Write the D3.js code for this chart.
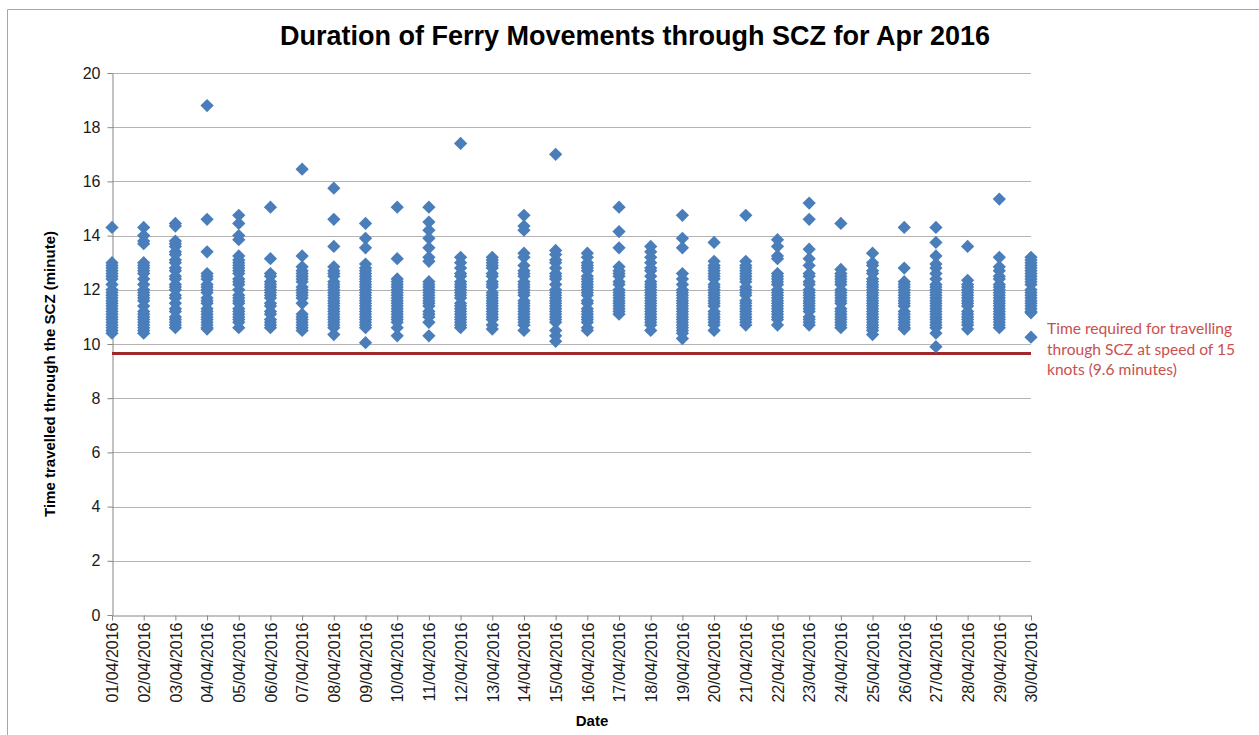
<!DOCTYPE html>
<html>
<head>
<meta charset="utf-8">
<script src="https://cdn.jsdelivr.net/npm/d3@7"></script>
<style>
  html, body { margin: 0; padding: 0; background: #fff; }
  svg { display: block; }
</style>
</head>
<body>
<svg id="chart" width="1259" height="735"></svg>
<script>
// ---------- data ----------
const dates = ["01/04/2016","02/04/2016","03/04/2016","04/04/2016","05/04/2016","06/04/2016","07/04/2016","08/04/2016","09/04/2016","10/04/2016","11/04/2016","12/04/2016","13/04/2016","14/04/2016","15/04/2016","16/04/2016","17/04/2016","18/04/2016","19/04/2016","20/04/2016","21/04/2016","22/04/2016","23/04/2016","24/04/2016","25/04/2016","26/04/2016","27/04/2016","28/04/2016","29/04/2016","30/04/2016"];

const durations = [
  [14.3,13.0,12.9,12.8,12.7,12.6,12.5,12.4,12.2,12.0,11.9,11.8,11.7,11.6,11.5,11.4,11.3,11.2,11.1,11.0,10.9,10.8,10.7,10.6,10.5,10.4],
  [14.3,14.0,13.8,13.7,13.0,12.9,12.8,12.7,12.6,12.4,12.2,12.0,11.9,11.8,11.7,11.6,11.4,11.2,11.1,11.0,10.9,10.8,10.7,10.6,10.5,10.4],
  [14.45,14.35,13.8,13.7,13.6,13.4,13.3,13.1,13.0,12.8,12.7,12.5,12.4,12.2,12.1,12.0,11.8,11.7,11.5,11.3,11.2,11.0,10.9,10.8,10.7,10.6],
  [18.8,14.6,13.4,12.6,12.5,12.4,12.2,12.1,12.0,11.9,11.7,11.6,11.5,11.3,11.2,11.1,11.0,10.9,10.8,10.7,10.6,10.55],
  [14.75,14.45,14.0,13.85,13.25,13.1,13.0,12.9,12.8,12.7,12.6,12.4,12.3,12.2,12.0,11.8,11.7,11.6,11.5,11.3,11.2,11.1,11.0,10.9,10.8,10.6],
  [15.05,13.15,12.6,12.5,12.3,12.2,12.1,12.0,11.9,11.8,11.7,11.5,11.4,11.2,11.1,10.9,10.8,10.7,10.6],
  [16.45,13.25,12.85,12.7,12.6,12.5,12.4,12.3,12.1,12.0,11.9,11.8,11.7,11.5,11.1,11.0,10.9,10.8,10.7,10.6,10.5],
  [15.75,14.6,13.6,12.85,12.7,12.6,12.5,12.3,12.2,12.1,12.0,11.9,11.8,11.7,11.6,11.5,11.4,11.3,11.2,11.1,11.0,10.9,10.8,10.7,10.6,10.35],
  [14.45,13.9,13.55,12.95,12.8,12.7,12.6,12.5,12.4,12.3,12.2,12.1,12.0,11.9,11.8,11.7,11.6,11.5,11.4,11.3,11.2,11.1,11.0,10.9,10.8,10.7,10.6,10.05],
  [15.05,13.15,12.4,12.3,12.2,12.1,12.0,11.9,11.8,11.7,11.6,11.5,11.4,11.3,11.2,11.1,11.0,10.9,10.8,10.6,10.3],
  [15.05,14.5,14.2,13.9,13.55,13.2,13.05,12.3,12.2,12.1,12.0,11.9,11.8,11.7,11.6,11.5,11.4,11.2,11.1,11.0,10.8,10.3],
  [17.4,13.2,13.0,12.8,12.6,12.5,12.3,12.2,12.1,12.0,11.9,11.8,11.7,11.5,11.4,11.3,11.2,11.1,11.0,10.9,10.8,10.7,10.6],
  [13.2,13.1,13.0,12.9,12.8,12.6,12.5,12.3,12.2,12.1,11.9,11.8,11.7,11.6,11.5,11.4,11.3,11.2,11.1,11.0,10.9,10.7,10.55],
  [14.75,14.35,14.2,13.35,13.2,12.9,12.7,12.6,12.5,12.3,12.2,12.1,12.0,11.9,11.8,11.6,11.5,11.4,11.3,11.2,11.1,11.0,10.9,10.8,10.7,10.5],
  [17.0,13.45,13.3,13.1,13.0,12.8,12.6,12.5,12.4,12.2,12.0,11.9,11.8,11.7,11.6,11.5,11.4,11.3,11.2,11.1,11.0,10.9,10.8,10.5,10.3,10.1],
  [13.35,13.2,13.0,12.9,12.8,12.7,12.5,12.4,12.3,12.2,12.1,12.0,11.9,11.8,11.6,11.5,11.3,11.2,11.1,11.0,10.9,10.8,10.6,10.5],
  [15.05,14.15,13.55,12.85,12.7,12.6,12.5,12.3,12.2,12.0,11.9,11.8,11.7,11.6,11.5,11.4,11.3,11.2,11.1],
  [13.6,13.4,13.2,13.0,12.8,12.7,12.5,12.3,12.2,12.1,12.0,11.9,11.8,11.7,11.6,11.5,11.4,11.3,11.2,11.1,11.0,10.9,10.8,10.7,10.5],
  [14.75,13.9,13.55,12.6,12.4,12.2,12.0,11.9,11.8,11.7,11.6,11.5,11.4,11.3,11.2,11.1,11.0,10.9,10.8,10.7,10.6,10.5,10.4,10.2],
  [13.75,13.05,12.9,12.8,12.7,12.6,12.5,12.4,12.2,12.1,12.0,11.9,11.8,11.7,11.6,11.5,11.4,11.2,11.1,11.0,10.9,10.8,10.7,10.5],
  [14.75,13.05,12.9,12.8,12.7,12.6,12.5,12.4,12.3,12.1,12.0,11.9,11.8,11.6,11.5,11.4,11.3,11.2,11.1,11.0,10.9,10.8,10.7],
  [13.85,13.6,13.25,13.15,12.6,12.5,12.4,12.3,12.2,12.0,11.9,11.8,11.7,11.6,11.5,11.4,11.3,11.2,11.1,11.0,10.9,10.7],
  [15.2,14.6,13.5,13.15,12.9,12.6,12.5,12.3,12.2,12.0,11.9,11.8,11.7,11.6,11.5,11.4,11.3,11.2,11.0,10.9,10.8,10.7],
  [14.45,12.75,12.6,12.5,12.4,12.3,12.2,12.0,11.9,11.8,11.7,11.6,11.5,11.3,11.2,11.1,11.0,10.9,10.8,10.7,10.6],
  [13.35,13.0,12.9,12.7,12.6,12.4,12.3,12.2,12.1,12.0,11.9,11.8,11.7,11.6,11.5,11.4,11.3,11.2,11.1,11.0,10.9,10.8,10.7,10.6,10.5,10.35],
  [14.3,12.8,12.3,12.2,12.1,12.0,11.9,11.8,11.7,11.6,11.5,11.4,11.2,11.1,11.0,10.9,10.8,10.7,10.6,10.55],
  [14.3,13.75,13.25,12.95,12.8,12.6,12.4,12.2,12.1,12.0,11.9,11.8,11.7,11.6,11.5,11.4,11.3,11.2,11.1,11.0,10.9,10.8,10.7,10.6,10.4,9.9],
  [13.6,12.35,12.2,12.1,12.0,11.9,11.8,11.7,11.6,11.5,11.4,11.2,11.1,11.0,10.9,10.8,10.7,10.55],
  [15.35,13.2,12.85,12.7,12.5,12.4,12.2,12.1,12.0,11.9,11.8,11.7,11.6,11.5,11.4,11.3,11.2,11.1,11.0,10.9,10.8,10.7,10.6],
  [13.2,13.1,13.0,12.9,12.8,12.7,12.6,12.5,12.4,12.3,12.2,12.0,11.9,11.8,11.7,11.6,11.5,11.4,11.3,11.2,11.15,10.25]
];

const yTicks = [0,2,4,6,8,10,12,14,16,18,20];
const thresholdValue = 9.65;
const thresholdLabel = ["Time required for travelling", "through SCZ at speed of 15", "knots (9.6 minutes)"];
const chartTitle = "Duration of Ferry Movements through SCZ for Apr 2016";
const yTitle = "Time travelled through the SCZ (minute)";
const xTitle = "Date";

// ---------- layout ----------
const svg = d3.select("#chart");
const plotL = 112, plotR = 1031, plotT = 73, plotB = 615;
const x = d3.scalePoint().domain(dates).range([plotL, plotR]).padding(0);
const y = d3.scaleLinear().domain([0, 20]).range([plotB, plotT]);

// outer frame
svg.append("path")
  .attr("d", `M7.5,735 L7.5,9.5 L1259,9.5`)
  .attr("fill", "none").attr("stroke", "#a6a6a6").attr("stroke-width", 1);

// title
svg.append("text")
  .attr("x", 635).attr("y", 45)
  .attr("text-anchor", "middle")
  .attr("font-family", "Liberation Sans, Arial, sans-serif")
  .attr("font-weight", "bold").attr("font-size", 27)
  .attr("fill", "#000")
  .text(chartTitle);

// gridlines
svg.append("g").selectAll("line")
  .data(yTicks.filter(d => d > 0))
  .join("line")
  .attr("x1", plotL).attr("x2", plotR)
  .attr("y1", d => Math.round(y(d)) + 0.5).attr("y2", d => Math.round(y(d)) + 0.5)
  .attr("stroke", "#b3b3b3").attr("stroke-width", 1);

// y axis
const yAxis = svg.append("g")
  .attr("transform", `translate(${plotL + 0.5},0)`)
  .call(d3.axisLeft(y).tickValues(yTicks).tickSize(5).tickSizeOuter(0).tickPadding(7).tickFormat(d3.format("d")));
yAxis.select(".domain").attr("stroke", "#868686");
yAxis.selectAll(".tick line").attr("stroke", "#868686");
yAxis.selectAll(".tick text")
  .attr("font-family", "Liberation Sans, Arial, sans-serif")
  .attr("font-size", 16).attr("fill", "#1a1a1a");

// x axis
const xAxis = svg.append("g")
  .attr("transform", `translate(0,${plotB + 0.5})`)
  .call(d3.axisBottom(x).tickSize(5).tickSizeOuter(0));
xAxis.select(".domain").attr("stroke", "#868686");
xAxis.selectAll(".tick line").attr("stroke", "#868686");
xAxis.selectAll(".tick text")
  .attr("font-family", "Liberation Sans, Arial, sans-serif")
  .attr("font-size", 16).attr("fill", "#1a1a1a")
  .attr("transform", "rotate(-90)")
  .attr("text-anchor", "end")
  .attr("x", -7).attr("y", 0).attr("dy", "0.36em");

// axis titles
svg.append("text")
  .attr("transform", `translate(55,${(plotT + plotB) / 2 + 30}) rotate(-90)`)
  .attr("text-anchor", "middle")
  .attr("font-family", "Liberation Sans, Arial, sans-serif")
  .attr("font-weight", "bold").attr("font-size", 15)
  .attr("textLength", 286).attr("lengthAdjust", "spacingAndGlyphs")
  .attr("fill", "#000")
  .text(yTitle);

svg.append("text")
  .attr("x", 592).attr("y", 726)
  .attr("text-anchor", "middle")
  .attr("font-family", "Liberation Sans, Arial, sans-serif")
  .attr("font-weight", "bold").attr("font-size", 15)
  .attr("fill", "#000")
  .text(xTitle);

// threshold line
svg.append("line")
  .attr("x1", plotL).attr("x2", plotR)
  .attr("y1", y(thresholdValue)).attr("y2", y(thresholdValue))
  .attr("stroke", "#a0282a").attr("stroke-width", 3);

// points
const diamond = d3.symbol().type(d3.symbolSquare).size(88);
const pts = [];
durations.forEach((vals, i) => vals.forEach(v => pts.push({ date: dates[i], v })));
svg.append("g").selectAll("path")
  .data(pts)
  .join("path")
  .attr("d", diamond)
  .attr("transform", d => `translate(${x(d.date)},${y(d.v)}) rotate(45)`)
  .attr("fill", "#4a7ebb");

// threshold label
const lbl = svg.append("text")
  .attr("font-family", "Lato, 'Open Sans', sans-serif")
  .attr("font-size", 15.6)
  .attr("fill", "#c9504d");
thresholdLabel.forEach((t, i) => {
  lbl.append("tspan").attr("x", 1047).attr("y", 334 + i * 20.5).text(t);
});
</script>
</body>
</html>
